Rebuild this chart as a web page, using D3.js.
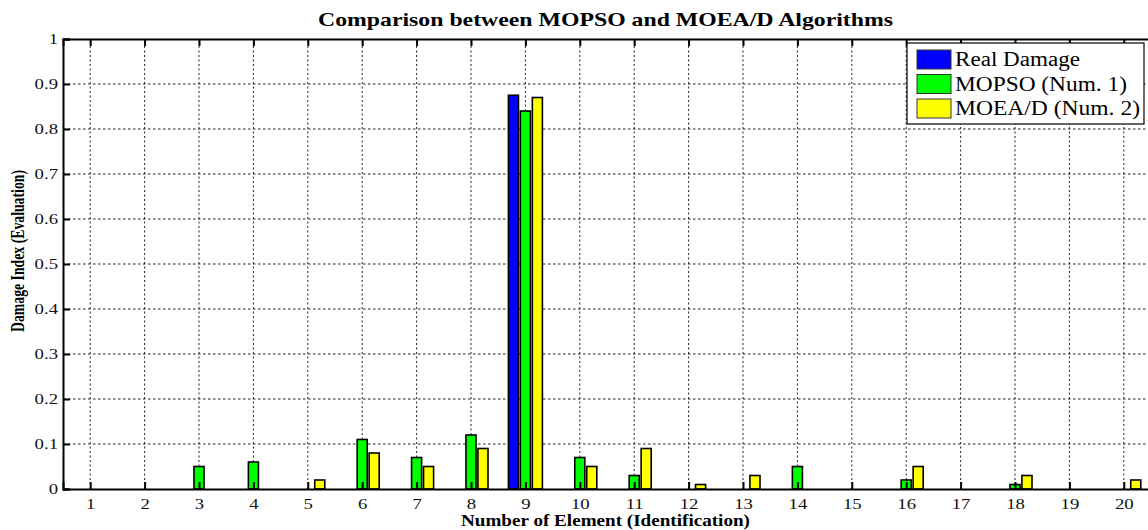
<!DOCTYPE html>
<html><head><meta charset="utf-8">
<script src="https://cdn.jsdelivr.net/npm/d3@7"></script>
<style>body{margin:0;background:#fff;} svg{display:block;}</style>
</head><body>
<script>
const categories = d3.range(1, 21);
const seriesNames = ["Real Damage", "MOPSO (Num. 1)", "MOEA/D (Num. 2)"];
const seriesColors = ["#0000ff", "#00ff00", "#ffff00"];
const realDamage = [0,0,0,0,0,0,0,0,0.875,0,0,0,0,0,0,0,0,0,0,0];
const mopso      = [0,0,0.05,0.06,0,0.11,0.07,0.12,0.84,0.07,0.03,0,0,0.05,0,0.02,0,0.01,0,0];
const moead      = [0,0,0,0,0.02,0.08,0.05,0.09,0.87,0.05,0.09,0.01,0.03,0,0,0.05,0,0.03,0,0.02];
const yTicks = [0,0.1,0.2,0.3,0.4,0.5,0.6,0.7,0.8,0.9,1];
const yTickLabels = ["0","0.1","0.2","0.3","0.4","0.5","0.6","0.7","0.8","0.9","1"];

const W = 1148, H = 530;
const m = {left: 63, top: 39, bottom: 41};
const plotRight = 1151;
const svg = d3.select("body").append("svg").attr("width", W).attr("height", H);

const x = d3.scaleLinear().domain([0.5, 20.5]).range([m.left, plotRight]);
const y = d3.scaleLinear().domain([0, 1]).range([H - m.bottom, m.top]);
const serif = "'Liberation Serif', 'Times New Roman', serif";

// grid
const g = svg.append("g");
g.selectAll(".vg").data(categories).enter().append("line")
  .attr("x1", d => x(d)).attr("x2", d => x(d))
  .attr("y1", y(0)).attr("y2", y(1))
  .attr("stroke", "#222").attr("stroke-width", 1).attr("stroke-dasharray", "2,2.5");
g.selectAll(".hg").data(yTicks.slice(1, -1)).enter().append("line")
  .attr("x1", m.left).attr("x2", plotRight)
  .attr("y1", d => y(d)).attr("y2", d => y(d))
  .attr("stroke", "#222").attr("stroke-width", 1).attr("stroke-dasharray", "2.5,2.5");

// bars
const barStep = 0.22, barW = 0.185;
const series = [realDamage, mopso, moead];
series.forEach((vals, si) => {
  const off = (si - 1) * barStep;
  svg.append("g").selectAll("rect")
    .data(categories.map((c, i) => ({c, v: vals[i]})).filter(d => d.v > 0))
    .enter().append("rect")
    .attr("x", d => x(d.c + off - barW / 2))
    .attr("width", x(barW) - x(0))
    .attr("y", d => y(d.v))
    .attr("height", d => y(0) - y(d.v))
    .attr("fill", seriesColors[si])
    .attr("stroke", "#000").attr("stroke-width", 1.6);
});

// axes
const xAxisB = d3.axisBottom(x).tickValues(categories).tickSize(-7).tickPadding(9).tickFormat(d3.format("d"));
const xAxisT = d3.axisTop(x).tickValues(categories).tickSize(-7).tickFormat("");
const yAxisL = d3.axisLeft(y).tickValues(yTicks).tickSize(-7).tickPadding(4).tickFormat((d, i) => yTickLabels[i]);
function style(sel) {
  sel.select(".domain").attr("stroke", "#000").attr("stroke-width", 2);
  sel.selectAll(".tick line").attr("stroke", "#000").attr("stroke-width", 2);
  sel.selectAll("text").attr("font-family", serif).attr("font-size", 15).attr("fill", "#111")
    .attr("transform", "scale(1.25,1)");
}
svg.append("g").attr("transform", `translate(0,${y(0)})`).call(xAxisB).call(style);
svg.append("g").attr("transform", `translate(0,${y(1)})`).call(xAxisT).call(style);
svg.append("g").attr("transform", `translate(${m.left},0)`).call(yAxisL).call(style);

// titles
svg.append("text").attr("x", 318).attr("y", 26)
  .attr("textLength", 575).attr("lengthAdjust", "spacingAndGlyphs")
  .attr("font-family", serif).attr("font-weight", "bold").attr("font-size", 19)
  .text("Comparison between MOPSO and MOEA/D Algorithms");
svg.append("text").attr("x", 461).attr("y", 526)
  .attr("textLength", 289).attr("lengthAdjust", "spacingAndGlyphs")
  .attr("font-family", serif).attr("font-weight", "bold").attr("font-size", 16.5)
  .text("Number of Element (Identification)");
svg.append("text").attr("transform", "translate(24,332) scale(1.25,1) rotate(-90)")
  .attr("textLength", 162).attr("lengthAdjust", "spacingAndGlyphs")
  .attr("font-family", serif).attr("font-weight", "bold").attr("font-size", 14.5)
  .text("Damage Index (Evaluation)");

// legend
const lg = svg.append("g");
lg.append("rect").attr("x", 907).attr("y", 43).attr("width", 237).attr("height", 81)
  .attr("fill", "#fff").attr("stroke", "#000").attr("stroke-width", 1.2);
const legendLens = [125, 172, 185];
seriesNames.forEach((n, i) => {
  const yy = 50 + i * 24.5;
  lg.append("rect").attr("x", 917).attr("y", yy).attr("width", 34).attr("height", 19)
    .attr("fill", seriesColors[i]).attr("stroke", "#333").attr("stroke-width", 1);
  lg.append("text").attr("x", 955).attr("y", yy + 16).attr("font-family", serif)
    .attr("textLength", legendLens[i]).attr("lengthAdjust", "spacingAndGlyphs")
    .attr("font-size", 20).attr("fill", "#000").text(n);
});
</script>
</body></html>
